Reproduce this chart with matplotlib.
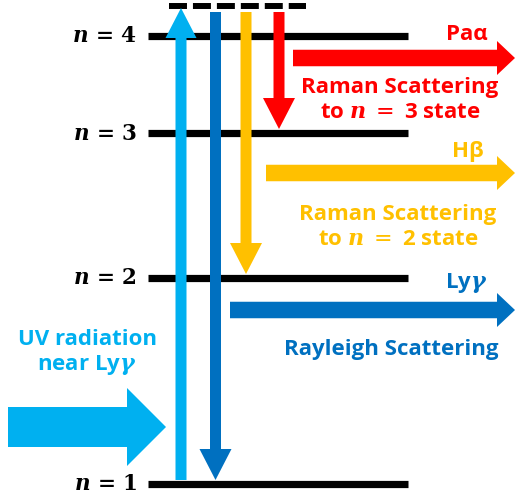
import matplotlib.pyplot as plt

plt.rcParams['font.family'] = ['Open Sans', 'DejaVu Sans']
plt.rcParams['mathtext.fontset'] = 'dejavuserif'

# energy levels (y position in the drawing, top = 0)
levels = [1, 2, 3, 4]
level_y = [484, 278, 133, 36]
virtual_y = 6

# colours of the transitions
c_uv = '#00B0F0'
c_ray = '#0070C0'
c_hb = '#FFC000'
c_pa = '#FF0000'

# downward transitions: (x, end level, colour)
down_x = [215.5, 246, 279]
down_to = [1, 2, 3]
down_col = [c_ray, c_hb, c_pa]

# outgoing photons: (start x, y, colour, name)
out_x0 = [230, 266, 293]
out_y = [310, 173, 58]
out_col = [c_ray, c_hb, c_pa]
out_name = [r'Ly$\boldsymbol{\gamma}$', 'Hβ', 'Paα']
out_desc = ['Rayleigh Scattering', 'Raman Scattering\nto $\\boldsymbol{n}$ $=$ 2 state',
            'Raman Scattering\nto $\\boldsymbol{n}$ $=$ 3 state']

fig = plt.figure(figsize=(5.15, 5.0), dpi=100)
ax = fig.add_axes([0, 0, 1, 1])
ax.set_xlim(0, 515)
ax.set_ylim(500, 0)
ax.axis('off')

# levels
for n, y in zip(levels, level_y):
    ax.plot([148, 408], [y, y], color='black', lw=5.2, solid_capstyle='butt', zorder=1)
    ax.text(137, y + 1, r'$\boldsymbol{n}\,\mathbf{=}\,\mathbf{%d}$' % n, ha='right',
            va='center', fontsize=15.5)
ax.plot([169, 306], [virtual_y, virtual_y], color='black', lw=4.3, ls=(0, (3.01, 1.0)),
        solid_capstyle='butt', zorder=1)

# excitation (upward) arrow
ax.arrow(181, 480, 0, virtual_y + 2 - 480, width=11, head_width=31, head_length=30,
         length_includes_head=True, color=c_uv, lw=0, zorder=3)

# downward arrows
for x, n, c in zip(down_x, down_to, down_col):
    y1 = level_y[levels.index(n)] - 4
    ax.arrow(x, 12, 0, y1 - 12, width=11, head_width=32, head_length=31,
             length_includes_head=True, color=c, lw=0, zorder=3)

# outgoing photons
for x0, y, c in zip(out_x0, out_y, out_col):
    ax.arrow(x0, y, 515 - x0, 0, width=16.5, head_width=34, head_length=18,
             length_includes_head=True, color=c, lw=0, zorder=3)

# incoming UV
ax.arrow(8, 427, 158, 0, width=40, head_width=78, head_length=39,
         length_includes_head=True, color=c_uv, lw=0, zorder=3)

# labels
name_pos = [(488, 283), (484, 151), (488, 34)]
for (x, y), s, c in zip(name_pos, out_name, out_col):
    ax.text(x, y, s, ha='right', va='center', color=c, fontsize=16, fontweight='bold')
desc_pos = [(391, 350), (398, 227), (400, 100)]
for (x, y), s, c in zip(desc_pos, out_desc, out_col):
    ax.text(x, y, s, ha='center', va='center', color=c, fontsize=16, fontweight='bold',
            linespacing=1.3)
ax.text(87, 353, 'UV radiation\nnear Ly$\\boldsymbol{\\gamma}$', ha='center', va='center',
        color=c_uv, fontsize=16, fontweight='bold', linespacing=1.15)

fig.savefig('out.png', dpi=100)
